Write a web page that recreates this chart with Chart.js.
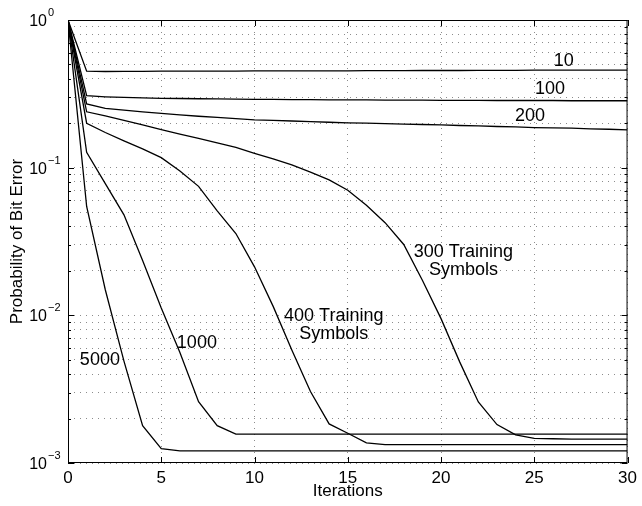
<!DOCTYPE html>
<html>
<head>
<meta charset="utf-8">
<script src="https://cdn.jsdelivr.net/npm/chart.js@4.4.1/dist/chart.umd.min.js"></script>
<style>
html,body{margin:0;padding:0;background:#fff;}
#wrap{width:642px;height:506px;}
</style>
</head>
<body>
<div id="wrap"><canvas id="c" width="642" height="506"></canvas></div>
<script>
// ---- data ----
const iterations = [0,1,2,3,4,5,6,7,8,9,10,11,12,13,14,15,16,17,18,19,20,21,22,23,24,25,26,27,28,29,30];
const ber10   = [1.0,0.450,0.448,0.449,0.449,0.450,0.450,0.450,0.451,0.451,0.452,0.452,0.452,0.453,0.453,0.453,0.454,0.454,0.454,0.455,0.455,0.455,0.456,0.456,0.456,0.457,0.457,0.457,0.458,0.458,0.458];
const ber100  = [1.0,0.307,0.302,0.299,0.297,0.295,0.294,0.293,0.292,0.291,0.290,0.290,0.289,0.289,0.288,0.288,0.288,0.287,0.287,0.287,0.286,0.286,0.286,0.285,0.285,0.285,0.285,0.284,0.284,0.284,0.284];
const ber200  = [1.0,0.270,0.252,0.245,0.239,0.233,0.228,0.223,0.219,0.215,0.211,0.209,0.207,0.205,0.203,0.201,0.200,0.199,0.197,0.196,0.195,0.193,0.192,0.190,0.189,0.187,0.186,0.185,0.183,0.182,0.180];
const ber300  = [1.0,0.239,0.224,0.209,0.195,0.181,0.169,0.158,0.147,0.137,0.125,0.1145,0.1046,0.0933,0.0826,0.0704,0.0556,0.0424,0.0302,0.0173,0.0095,0.00484,0.00259,0.00182,0.00155,0.00147,0.00146,0.00145,0.00145,0.00145,0.00145];
const ber400  = [1.0,0.200,0.173,0.152,0.134,0.117,0.095,0.0747,0.051,0.0358,0.0213,0.0115,0.00583,0.00305,0.00184,0.00159,0.00137,0.00133,0.00133,0.00133,0.00133,0.00133,0.00133,0.00133,0.00133,0.00133,0.00133,0.00133,0.00133,0.00133,0.00133];
const ber1000 = [1.0,0.127,0.078,0.0479,0.0235,0.0112,0.0056,0.0026,0.00179,0.00157,0.00157,0.00157,0.00157,0.00157,0.00157,0.00157,0.00157,0.00157,0.00157,0.00157,0.00157,0.00157,0.00157,0.00157,0.00157,0.00157,0.00157,0.00157,0.00157,0.00157,0.00157];
const ber5000 = [1.0,0.0546,0.0149,0.0049,0.00179,0.00125,0.00121,0.00121,0.00121,0.00121,0.00121,0.00121,0.00121,0.00121,0.00121,0.00121,0.00121,0.00121,0.00121,0.00121,0.00121,0.00121,0.00121,0.00121,0.00121,0.00121,0.00121,0.00121,0.00121,0.00121,0.00121];

const xTickValues = [0,5,10,15,20,25,30];
const yDecades = [1, 0.1, 0.01, 0.001];
const yTickBase = ['10','10','10','10'];
const yTickExp = ['0','\u22121','\u22122','\u22123'];
const xTitle = 'Iterations';
const yTitle = 'Probability of Bit Error';

// curve annotations: text lines and anchor in data units
const curveLabels = [
  {lines:['10'], x:26.58, y:0.528},
  {lines:['100'], x:25.84, y:0.341},
  {lines:['200'], x:24.77, y:0.222},
  {lines:['300 Training','Symbols'], x:21.2, y:[0.0269,0.0203]},
  {lines:['400 Training','Symbols'], x:14.25, y:[0.0099,0.00748]},
  {lines:['1000'], x:6.91, y:0.0065},
  {lines:['5000'], x:1.71, y:0.0050}
];

const FONT = "'Liberation Sans', Arial, Helvetica, sans-serif";
const series = [ber10, ber100, ber200, ber300, ber400, ber1000, ber5000];
const names = ['10','100','200','300','400','1000','5000'];

const datasets = series.map((arr, k) => ({
  label: names[k],
  data: iterations.map((x, i) => ({x: x, y: arr[i]})),
  borderColor: '#000',
  borderWidth: 1.3,
  pointRadius: 0,
  fill: false,
  tension: 0
}));

// all log ticks 1..9 x 10^k
function logTicks() {
  const out = [];
  for (let e = -3; e <= 0; e++) {
    for (let m = 1; m <= 9; m++) {
      const v = m * Math.pow(10, e);
      if (v <= 1.0000001) out.push({value: v, major: m === 1});
    }
  }
  return out;
}

const decor = {
  id: 'decor',
  afterDraw(chart) {
    const ctx = chart.ctx;
    const a = chart.chartArea;
    const xs = chart.scales.x, ys = chart.scales.y;
    ctx.save();
    // frame
    ctx.strokeStyle = '#000';
    ctx.lineWidth = 1;
    ctx.setLineDash([]);
    ctx.strokeRect(a.left + 0.5, a.top + 0.5, a.right - a.left - 1, a.bottom - a.top - 1);
    // x ticks (inside, top & bottom)
    ctx.beginPath();
    xTickValues.forEach(v => {
      const px = Math.round(xs.getPixelForValue(v)) + 0.5;
      ctx.moveTo(px, a.bottom); ctx.lineTo(px, a.bottom - 6);
      ctx.moveTo(px, a.top); ctx.lineTo(px, a.top + 6);
    });
    // y ticks (inside, left & right)
    logTicks().forEach(t => {
      const py = Math.round(ys.getPixelForValue(t.value)) + 0.5;
      const len = t.major ? 6 : 3;
      ctx.moveTo(a.left, py); ctx.lineTo(a.left + len, py);
      ctx.moveTo(a.right, py); ctx.lineTo(a.right - len, py);
    });
    ctx.stroke();
    // y tick labels with superscript exponent
    ctx.fillStyle = '#000';
    yDecades.forEach((v, i) => {
      const py = ys.getPixelForValue(v);
      ctx.font = '16px ' + FONT;
      ctx.textAlign = 'right';
      ctx.textBaseline = 'alphabetic';
      ctx.fillText(yTickBase[i], 47, py + 6);
      ctx.font = '11px ' + FONT;
      ctx.textAlign = 'left';
      ctx.fillText(yTickExp[i], 48, py - 4);
    });
    // curve labels
    ctx.font = '18px ' + FONT;
    ctx.textAlign = 'center';
    ctx.textBaseline = 'middle';
    curveLabels.forEach(l => {
      const px = xs.getPixelForValue(l.x);
      l.lines.forEach((txt, j) => {
        const yv = Array.isArray(l.y) ? l.y[j] : l.y;
        ctx.fillText(txt, px, ys.getPixelForValue(yv));
      });
    });
    ctx.restore();
  }
};

new Chart(document.getElementById('c'), {
  type: 'line',
  data: {datasets: datasets},
  options: {
    responsive: false,
    devicePixelRatio: 1,
    animation: false,
    events: [],
    layout: {padding: {top: 20, right: 12, left: 0, bottom: 0}},
    plugins: {legend: {display: false}, tooltip: {enabled: false}},
    scales: {
      x: {
        type: 'linear',
        min: 0, max: 30,
        afterBuildTicks: s => { s.ticks = xTickValues.map(v => ({value: v})); },
        afterFit: s => { s.height = 43; },
        ticks: {color: '#000', font: {family: FONT, size: 17}, padding: 5, maxRotation: 0, autoSkip: false},
        grid: {color: 'rgba(0,0,0,0.45)', lineWidth: 1, drawTicks: false},
        border: {display: false, dash: [1, 5]},
        title: {display: true, text: xTitle, color: '#000', font: {family: FONT, size: 17}, padding: {top: 0, bottom: 4}}
      },
      y: {
        type: 'logarithmic',
        min: 0.001, max: 1,
        afterBuildTicks: s => { s.ticks = logTicks(); },
        afterFit: s => { s.width = 68; },
        ticks: {callback: () => '', autoSkip: false},
        grid: {color: 'rgba(0,0,0,0.45)', lineWidth: 1, drawTicks: false},
        border: {display: false, dash: [1, 5]},
        title: {display: true, text: yTitle, color: '#000', font: {family: FONT, size: 17}, padding: {top: 7, bottom: 0}}
      }
    }
  },
  plugins: [decor]
});
</script>
</body>
</html>
